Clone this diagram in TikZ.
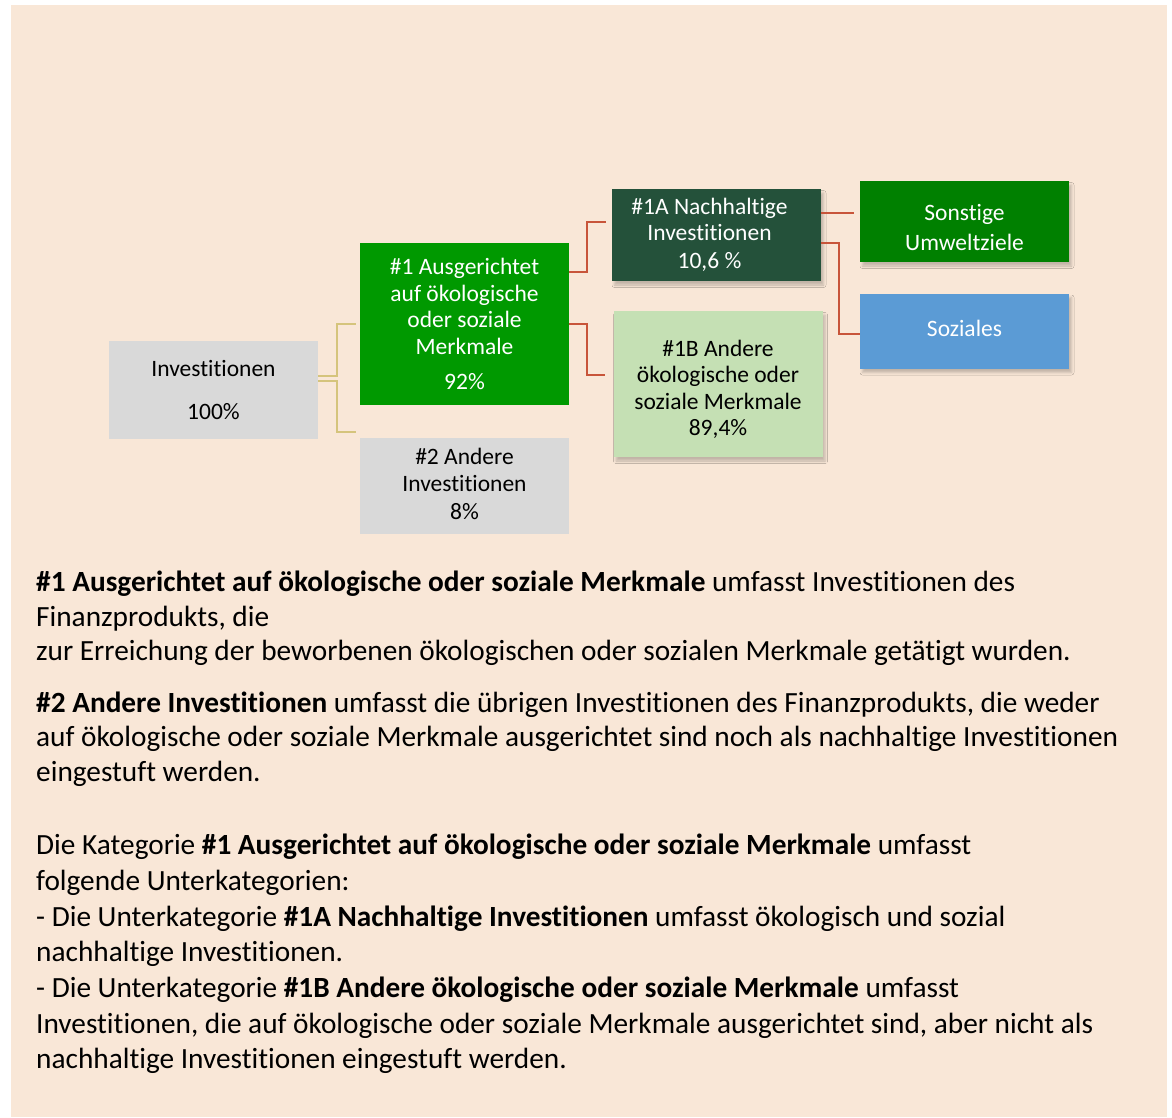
\documentclass[tikz,border=0pt]{standalone}
\usepackage{fontspec}
\setmainfont[Ligatures=NoCommon,RawFeature={-liga;-dlig;-clig}]{Carlito}
\usetikzlibrary{shadows,shadows.blur}
\definecolor{bgbeige}{HTML}{F9E7D7}
\definecolor{boxgray}{HTML}{D9D9D9}
\definecolor{grnA}{HTML}{009900}
\definecolor{grnDark}{HTML}{24513A}
\definecolor{grnLight}{HTML}{C5E0B4}
\definecolor{grnSon}{HTML}{008000}
\definecolor{blueSoz}{HTML}{5B9BD5}
\definecolor{redLine}{HTML}{C8553A}
\definecolor{oliveLine}{HTML}{D5C47C}
\tikzset{
  box/.style={rectangle, draw=none, minimum width=209pt, align=center, inner sep=0pt,
    font=\fontsize{23.5}{26.5}\selectfont},
  shad/.style={blur shadow={shadow xshift=2.5pt, shadow yshift=-4pt, shadow blur radius=2.5pt, shadow opacity=22}},
  redcon/.style={draw=redLine, line width=2pt},
  olcon/.style={draw=oliveLine, line width=2pt},
  para/.style={anchor=base west, inner sep=0pt, font=\fontsize{29.3}{35}\selectfont}
}
\begin{document}
\begin{tikzpicture}[x=1pt,y=-1pt]
\useasboundingbox (0,0) rectangle (1172,1117);
\fill[white] (0,0) rectangle (1172,1117);
\fill[bgbeige] (11,5) rectangle (1167,1117);

% boxes
\node[box, fill=boxgray, minimum height=98pt, text=black] (inv) at (213.5,390) {Investitionen\\[16pt]100\%};
\node[box, fill=grnA, minimum height=162pt, text=white] (n1) at (464.5,324) {\#1 Ausgerichtet\\auf ökologische\\oder soziale\\Merkmale\\[9pt]92\%};
\node[box, fill=boxgray, minimum height=96pt, text=black] (n2) at (464.5,486) {\raisebox{6pt}{\#2 Andere}\\\raisebox{6pt}{Investitionen}\\\raisebox{4pt}{8\%}};
\node[box, shad, fill=grnDark, minimum height=92pt, text=white] (n1a) at (716.5,235) {\hspace*{-14pt}\#1A Nachhaltige\\\hspace*{-14pt}Investitionen\\[1.5pt]\hspace*{-14pt}10,6 \%};
\node[box, shad, fill=grnLight, minimum height=146pt, text=black] (n1b) at (718,384) {\rule{0pt}{27pt}\#1B Andere\\ökologische oder\\soziale Merkmale\\89,4\%};
\node[box, shad, fill=grnSon, minimum height=81pt, text=white] (son) at (964.5,221.5) {\rule{0pt}{29pt}Sonstige\\[3.5pt]Umweltziele};
\node[box, shad, fill=blueSoz, minimum height=75pt, text=white] (soz) at (964.5,331) {\raisebox{6pt}{Soziales}};

% connectors
\draw[olcon] ([yshift=14pt]inv.east) -- ++(19,0) |- ([xshift=-4pt]n1.west);
\draw[olcon] ([yshift=9pt]inv.east) -- ++(19,0) |- ([xshift=-4pt,yshift=6pt]n2.north west);
\draw[redcon] ([yshift=52pt]n1.east) -- ++(18,0) |- ([xshift=-6pt,yshift=13pt]n1a.west);
\draw[redcon] (n1.east) -- ++(18,0) |- ([xshift=-8pt,yshift=9pt]n1b.west);
\draw[redcon] ([yshift=22pt]n1a.east) -- ([xshift=-6pt,yshift=8.5pt]son.west);
\draw[redcon] ([yshift=-8pt]n1a.east) -- ++(18,0) |- ([yshift=-3pt]soz.west);

% text
\node[para] (t1) at (36,591) {\textbf{\#1 Ausgerichtet auf ökologische oder soziale Merkmale} umfasst Investitionen des};
\node[para] (t2) at (36,626) {Finanzprodukts, die};
\node[para] (t3) at (36,660) {zur Erreichung der beworbenen ökologischen oder sozialen Merkmale getätigt wurden.};
\node[para] (t4) at (36,712) {\textbf{\#2 Andere Investitionen} umfasst die übrigen Investitionen des Finanzprodukts, die weder};
\node[para] (t5) at (36,746.5) {auf ökologische oder soziale Merkmale ausgerichtet sind noch als nachhaltige Investitionen};
\node[para] (t6) at (36,781) {eingestuft werden.};
\node[para] (t7) at (36,854.5) {Die Kategorie \textbf{\#1 Ausgerichtet auf ökologische oder soziale Merkmale} umfasst};
\node[para] (t8) at (36,890.5) {folgende Unterkategorien:};
\node[para] (t9) at (36,926) {- Die Unterkategorie \textbf{\#1A Nachhaltige Investitionen} umfasst ökologisch und sozial};
\node[para] (t10) at (36,961) {nachhaltige Investitionen.};
\node[para] (t11) at (36,997) {- Die Unterkategorie \textbf{\#1B Andere ökologische oder soziale Merkmale} umfasst};
\node[para] (t12) at (36,1033) {Investitionen, die auf ökologische oder soziale Merkmale ausgerichtet sind, aber nicht als};
\node[para] (t13) at (36,1068.5) {nachhaltige Investitionen eingestuft werden.};
\end{tikzpicture}
\end{document}
